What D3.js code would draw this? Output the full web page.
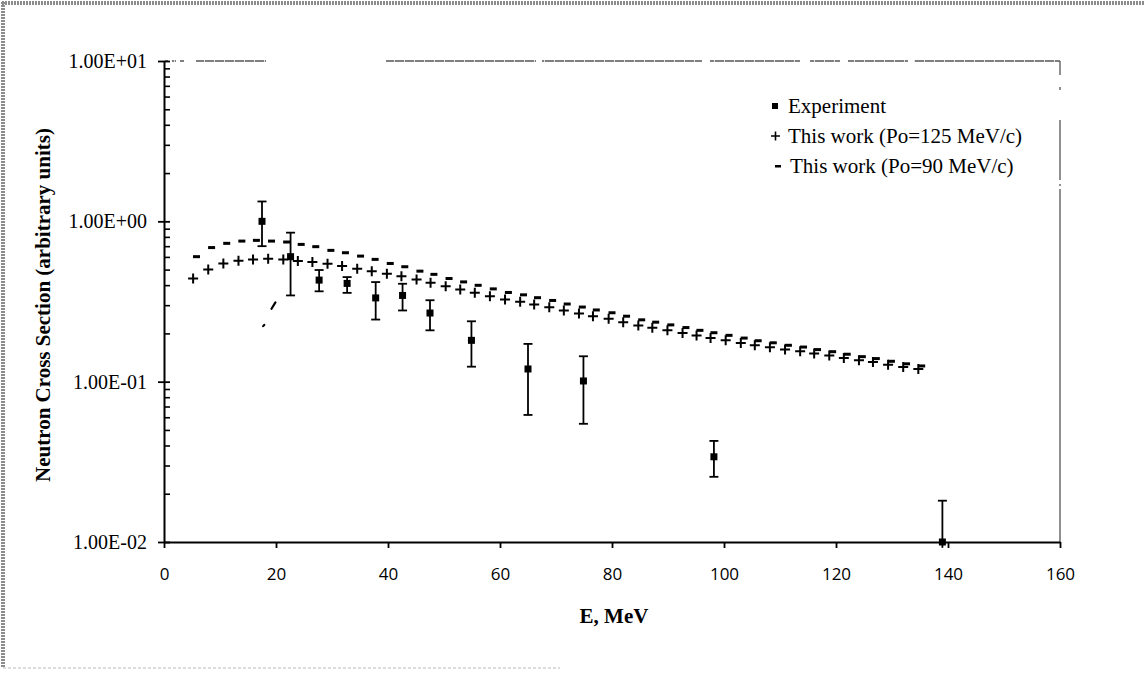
<!DOCTYPE html>
<html>
<head>
<meta charset="utf-8">
<script src="https://cdn.jsdelivr.net/npm/d3@7"></script>
<style>
  body { margin: 0; background: #fff; }
  svg { display: block; }
</style>
</head>
<body>
<div id="chart"></div>
<script>
// axis ticks
let xTicks = [0, 20, 40, 60, 80, 100, 120, 140, 160];
let yTicks = [0.01, 0.1, 1, 10];
let yTickLabels = ["1.00E-02", "1.00E-01", "1.00E+00", "1.00E+01"];

// experiment points with error bars
let expE   = [17.5, 22.6, 27.7, 32.7, 37.8, 42.6, 47.5, 54.9, 65.0, 74.9, 98.2, 139.0];
let expVal = [1.0, 0.602, 0.43, 0.41, 0.333, 0.345, 0.268, 0.181, 0.12, 0.101, 0.034, 0.01];
let expHi  = [1.33, 0.85, 0.497, 0.449, 0.418, 0.408, 0.322, 0.238, 0.172, 0.144, 0.0427, 0.0181];
let expLo  = [0.70, 0.345, 0.366, 0.358, 0.244, 0.278, 0.209, 0.124, 0.062, 0.0546, 0.0255, 0.0092];

// This work (Po=125 MeV/c)
let plusE = [5.2, 7.9, 10.6, 13.3, 15.9, 18.6, 21.3, 23.9, 26.5, 29.2,
  31.8, 34.5, 37.1, 39.8, 42.4, 45.1, 47.6, 50.3, 52.9, 55.5,
  58.2, 60.9, 63.6, 66.1, 68.8, 71.4, 74.1, 76.6, 79.4, 82.0,
  84.7, 87.2, 89.9, 92.6, 95.1, 97.6, 100.3, 103.0, 105.5, 108.2,
  110.9, 113.6, 116.1, 118.8, 121.4, 124.1, 126.6, 129.3, 132.0, 134.7];
let plusVal = [0.44, 0.50, 0.546, 0.568, 0.579, 0.585, 0.579, 0.565, 0.557, 0.544,
  0.526, 0.506, 0.489, 0.471, 0.455, 0.434, 0.414, 0.394, 0.376, 0.358,
  0.341, 0.325, 0.315, 0.303, 0.291, 0.278, 0.266, 0.256, 0.247, 0.235,
  0.224, 0.217, 0.209, 0.201, 0.194, 0.1875, 0.181, 0.1745, 0.1686, 0.1638,
  0.1585, 0.1546, 0.1496, 0.1454, 0.1407, 0.1359, 0.1328, 0.1277, 0.1236, 0.120];

// This work (Po=90 MeV/c)
let dashE = [5.8, 8.5, 11.2, 13.9, 16.5, 19.2, 21.9, 24.5, 27.1, 29.8,
  32.4, 35.1, 37.7, 40.4, 43.0, 45.7, 48.2, 50.9, 53.5, 56.1,
  58.8, 61.5, 64.2, 66.7, 69.4, 72.0, 74.7, 77.2, 80.0, 82.6,
  85.3, 87.8, 90.5, 93.2, 95.7, 98.2, 100.9, 103.6, 106.1, 108.8,
  111.5, 114.2, 116.7, 119.4, 122.0, 124.7, 127.2, 129.9, 132.6, 135.3];
let dashVal = [0.602, 0.686, 0.729, 0.753, 0.761, 0.753, 0.743, 0.718, 0.695, 0.659,
  0.637, 0.607, 0.579, 0.546, 0.521, 0.489, 0.467, 0.440, 0.419, 0.399,
  0.379, 0.360, 0.348, 0.334, 0.321, 0.305, 0.292, 0.280, 0.269, 0.256,
  0.243, 0.235, 0.226, 0.2175, 0.209, 0.202, 0.1945, 0.187, 0.180, 0.1748,
  0.1686, 0.1644, 0.1585, 0.1538, 0.1483, 0.1432, 0.1393, 0.1340, 0.1292, 0.1253];

// short rising strokes below the curves near 18-20 MeV
let lowE   = [[17.7, 17.9], [19.2, 19.9]];
let lowVal = [[0.222, 0.226], [0.285, 0.312]];

let legendLabels = ["Experiment", "This work (Po=125 MeV/c)", "This work (Po=90 MeV/c)"];

// svg size
let width = 1144;
let height = 674;

let plot = { left: 164, right: 1060, top: 61, bottom: 542 };

let svg = d3.select("#chart")
  .append("svg")
  .attr("width", width)
  .attr("height", height);

svg.append("rect")
  .attr("width", width)
  .attr("height", height)
  .attr("fill", "#fff");

// scanned page frame
svg.append("line").attr("x1", 2).attr("y1", 3).attr("x2", width).attr("y2", 3)
  .attr("stroke", "#8c8c8c").attr("stroke-width", 4).attr("stroke-dasharray", "2,1");
svg.append("line").attr("x1", 3).attr("y1", 2).attr("x2", 3).attr("y2", 668)
  .attr("stroke", "#8c8c8c").attr("stroke-width", 4).attr("stroke-dasharray", "2,1");
svg.append("line").attr("x1", 3).attr("y1", 668).attr("x2", 560).attr("y2", 668)
  .attr("stroke", "#bbb").attr("stroke-width", 1).attr("stroke-dasharray", "3,2");

// scales
let fnX = d3.scaleLinear().domain([0, 160]).range([plot.left, plot.right]);
let fnY = d3.scaleLog().domain([0.01, 10]).range([plot.bottom, plot.top]);

// plot area border (top and right, faint dotted scan)
svg.append("line")
  .attr("x1", plot.left).attr("y1", plot.top).attr("x2", plot.right).attr("y2", plot.top)
  .attr("stroke", "#555").attr("stroke-width", 1.4)
  .attr("stroke-dasharray", "4,4,4,4,4,12,70,120,150,6,160,8,90,10,30,8,60,6,200");
svg.append("line")
  .attr("x1", plot.left).attr("y1", plot.top).attr("x2", plot.right).attr("y2", plot.top)
  .attr("stroke", "#fff").attr("stroke-width", 1.6)
  .attr("stroke-dasharray", "1,9");
svg.append("line")
  .attr("x1", plot.right).attr("y1", plot.top).attr("x2", plot.right).attr("y2", plot.bottom)
  .attr("stroke", "#555").attr("stroke-width", 1.3)
  .attr("stroke-dasharray", "14,12,3,30,60,4,2,3,400");

// x axis
let gX = svg.append("g")
  .attr("transform", `translate(0, ${plot.bottom})`)
  .call(d3.axisBottom(fnX).tickValues(xTicks).tickSize(6).tickSizeOuter(0).tickPadding(20));
gX.select(".domain").attr("stroke", "#000").attr("stroke-width", 2);
gX.selectAll(".tick line").attr("stroke", "#000").attr("stroke-width", 1.8);
gX.selectAll(".tick text")
  .attr("font-family", "'Open Sans', sans-serif")
  .attr("font-size", 17)
  .attr("fill", "#000");

// y axis, major ticks cross the axis line
let gY = svg.append("g")
  .attr("transform", `translate(${plot.left}, 0)`)
  .call(d3.axisLeft(fnY).tickValues(yTicks).tickSize(6).tickSizeOuter(0).tickPadding(11)
    .tickFormat((d, i) => yTickLabels[i]));
gY.select(".domain").attr("stroke", "#000").attr("stroke-width", 2);
gY.selectAll(".tick line").attr("x1", 6).attr("stroke", "#000").attr("stroke-width", 1.8);
gY.selectAll(".tick text")
  .attr("font-family", "'Liberation Serif', 'Times New Roman', serif")
  .attr("font-size", 20)
  .attr("fill", "#000");

// minor ticks inside
let minorTicks = fnY.ticks().filter(d => !yTicks.some(t => Math.abs(t - d) < 1e-9));
let gYm = svg.append("g")
  .attr("transform", `translate(${plot.left}, 0)`)
  .call(d3.axisRight(fnY).tickValues(minorTicks).tickSize(6).tickSizeOuter(0).tickFormat(""));
gYm.select(".domain").remove();
gYm.selectAll(".tick line").attr("stroke", "#000").attr("stroke-width", 1.6);

// axis titles
svg.append("text")
  .attr("x", 614)
  .attr("y", 623)
  .attr("text-anchor", "middle")
  .attr("font-family", "'Liberation Serif', 'Times New Roman', serif")
  .attr("font-weight", "bold")
  .attr("font-size", 21)
  .text("E, MeV");

svg.append("text")
  .attr("transform", "translate(50, 305) rotate(-90)")
  .attr("text-anchor", "middle")
  .attr("font-family", "'Liberation Serif', 'Times New Roman', serif")
  .attr("font-weight", "bold")
  .attr("font-size", 21)
  .text("Neutron Cross Section (arbitrary units)");

// Po=90 dashes
svg.selectAll(".dash")
  .data(dashE)
  .enter()
  .append("rect")
  .attr("class", "dash")
  .attr("x", d => fnX(d) - 3.5)
  .attr("y", (d, i) => fnY(dashVal[i]) - 1.5)
  .attr("width", 7)
  .attr("height", 3)
  .attr("fill", "#000");

// low strokes
let fnLine = d3.line().x(d => fnX(d[0])).y(d => fnY(d[1]));
lowE.forEach((arr, k) => {
  svg.append("path")
    .attr("d", fnLine(arr.map((e, i) => [e, lowVal[k][i]])))
    .attr("fill", "none")
    .attr("stroke", "#000")
    .attr("stroke-width", 2.2)
    .attr("stroke-linecap", "round");
});

// Po=125 plus markers
svg.selectAll(".plus")
  .data(plusE)
  .enter()
  .append("path")
  .attr("class", "plus")
  .attr("transform", (d, i) => `translate(${fnX(d)}, ${fnY(plusVal[i])})`)
  .attr("d", "M-5,0H5M0,-5V5")
  .attr("stroke", "#000")
  .attr("stroke-width", 2)
  .attr("fill", "none");

// experiment error bars
let gErr = svg.append("g");
expE.forEach((e, i) => {
  let cx = fnX(e);
  gErr.append("line")
    .attr("x1", cx).attr("x2", cx)
    .attr("y1", fnY(expHi[i])).attr("y2", fnY(expLo[i]))
    .attr("stroke", "#000").attr("stroke-width", 1.8);
  gErr.append("line")
    .attr("x1", cx - 4.5).attr("x2", cx + 4.5)
    .attr("y1", fnY(expHi[i])).attr("y2", fnY(expHi[i]))
    .attr("stroke", "#000").attr("stroke-width", 1.8);
  if (expLo[i] >= 0.01) {
    gErr.append("line")
      .attr("x1", cx - 4.5).attr("x2", cx + 4.5)
      .attr("y1", fnY(expLo[i])).attr("y2", fnY(expLo[i]))
      .attr("stroke", "#000").attr("stroke-width", 1.8);
  }
});

svg.selectAll(".exp")
  .data(expE)
  .enter()
  .append("rect")
  .attr("class", "exp")
  .attr("x", d => fnX(d) - 3.5)
  .attr("y", (d, i) => fnY(expVal[i]) - 3.5)
  .attr("width", 7)
  .attr("height", 7)
  .attr("fill", "#000");

// legend
let gLeg = svg.append("g");
gLeg.append("rect").attr("x", 772).attr("y", 103).attr("width", 6).attr("height", 6).attr("fill", "#000");
gLeg.append("path").attr("d", "M771,136H780M775.5,131.5V140.5")
  .attr("stroke", "#000").attr("stroke-width", 1.6);
gLeg.append("rect").attr("x", 775).attr("y", 165).attr("width", 6).attr("height", 2.5).attr("fill", "#000");

gLeg.selectAll("text")
  .data(legendLabels)
  .enter()
  .append("text")
  .attr("x", (d, i) => i === 2 ? 790 : 788)
  .attr("y", (d, i) => 113 + i * 30)
  .attr("font-family", "'Liberation Serif', 'Times New Roman', serif")
  .attr("font-size", 21)
  .attr("fill", "#000")
  .text(d => d);
</script>
</body>
</html>
